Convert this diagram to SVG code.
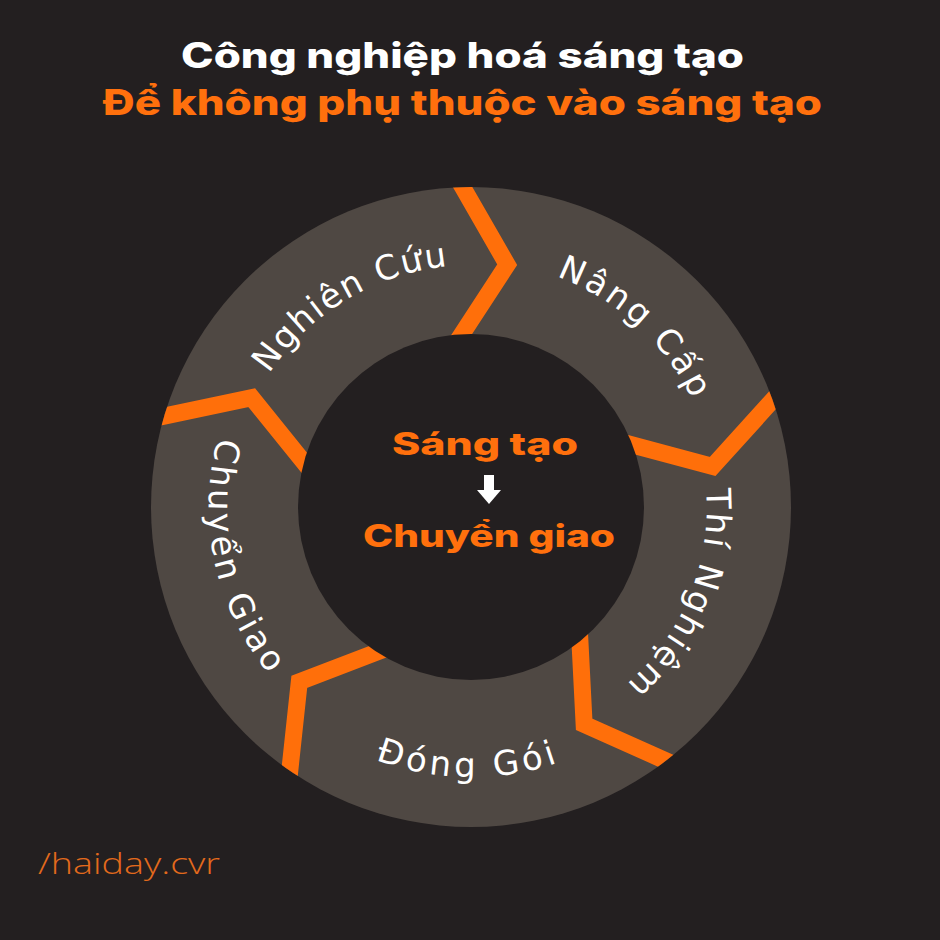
<svg xmlns="http://www.w3.org/2000/svg" xmlns:xlink="http://www.w3.org/1999/xlink" width="940" height="940" viewBox="0 0 940 940">
  <style>
    .title { font-family: Inter, "DejaVu Sans", sans-serif; font-weight: 800; text-anchor: middle; }
    .lbl { font-family: "DejaVu Sans", sans-serif; font-size: 34px; fill: #ffffff; }
    .sep { fill: none; stroke: #ff6f0a; stroke-width: 17; stroke-linejoin: miter; }
    .orange { fill: #ff700d; }
  </style>
  <defs>
    <clipPath id="outerClip">
      <circle cx="471" cy="507" r="320"/>
    </clipPath>
    <path id="chev" d="M450.1,165.4 L462.6,187.1 L507.2,264.7 L461.9,334.2 L448.3,355.1"/>
    <path id="arc1" d="M233.5,552.4 A242,242 0 0 1 623.3,318.9"/>
    <path id="arc2" d="M357.4,288.8 A246,246 0 0 1 698.3,601.1"/>
    <path id="arc3" d="M629.8,333.2 A235,235 0 0 1 460.7,741.8"/>
    <path id="arc4" d="M216.3,596.6 A270,270 0 0 0 723.8,602.0"/>
    <path id="arc5" d="M330.2,285.9 A262,262 0 0 0 436.8,766.8"/>
  </defs>

  <rect x="0" y="0" width="940" height="940" fill="#231f20"/>

  <g id="title">
    <text class="title" x="462.5" y="68" font-size="35" fill="#ffffff" textLength="563" lengthAdjust="spacingAndGlyphs">Công nghiệp hoá sáng tạo</text>
    <text class="title orange" x="462.5" y="115" font-size="35" textLength="719" lengthAdjust="spacingAndGlyphs">Để không phụ thuộc vào sáng tạo</text>
  </g>

  <g id="ring">
    <circle cx="471" cy="507" r="320" fill="#4f4843"/>
  </g>

  <g id="connectors" clip-path="url(#outerClip)">
    <use xlink:href="#chev" href="#chev" class="sep"/>
    <use xlink:href="#chev" href="#chev" class="sep" transform="rotate(72 471 507)"/>
    <use xlink:href="#chev" href="#chev" class="sep" transform="rotate(144 471 507)"/>
    <use xlink:href="#chev" href="#chev" class="sep" transform="rotate(216 471 507)"/>
    <use xlink:href="#chev" href="#chev" class="sep" transform="rotate(288 471 507)"/>
  </g>

  <g id="center">
    <circle cx="471" cy="507" r="173" fill="#231f20"/>
    <text class="title orange" x="485" y="455" font-size="31" textLength="186" lengthAdjust="spacingAndGlyphs">Sáng tạo</text>
    <rect x="484" y="475" width="10" height="16" fill="#ffffff"/>
    <polygon points="477,490 501,490 489,504" fill="#ffffff"/>
    <text class="title orange" x="489" y="547" font-size="31" textLength="252" lengthAdjust="spacingAndGlyphs">Chuyển giao</text>
  </g>

  <g id="node-nghien-cuu">
    <text class="lbl" letter-spacing="1.9"><textPath xlink:href="#arc1" href="#arc1" startOffset="50%" text-anchor="middle">Nghiên Cứu</textPath></text>
  </g>
  <g id="node-nang-cap">
    <text class="lbl" letter-spacing="3"><textPath xlink:href="#arc2" href="#arc2" startOffset="50%" text-anchor="middle">Nâng Cấp</textPath></text>
  </g>
  <g id="node-thi-nghiem">
    <text class="lbl" letter-spacing="2.7"><textPath xlink:href="#arc3" href="#arc3" startOffset="50%" text-anchor="middle">Thí Nghiệm</textPath></text>
  </g>
  <g id="node-dong-goi">
    <text class="lbl" letter-spacing="4"><textPath xlink:href="#arc4" href="#arc4" startOffset="50%" text-anchor="middle">Đóng Gói</textPath></text>
  </g>
  <g id="node-chuyen-giao">
    <text class="lbl" letter-spacing="3.4"><textPath xlink:href="#arc5" href="#arc5" startOffset="50%" text-anchor="middle">Chuyển Giao</textPath></text>
  </g>

  <g id="watermark">
    <text x="38" y="874" font-family="'Open Sans', 'DejaVu Sans', sans-serif" font-weight="300" font-size="29" fill="#e36a1c" textLength="182" lengthAdjust="spacingAndGlyphs">/haiday.cvr</text>
  </g>
</svg>
